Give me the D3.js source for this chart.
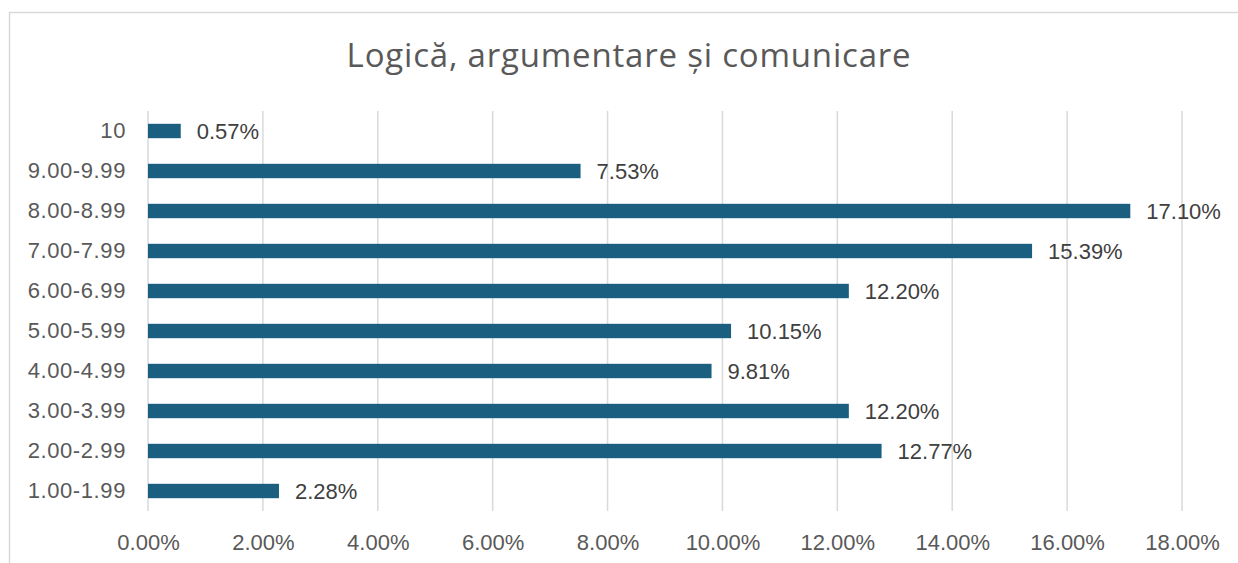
<!DOCTYPE html>
<html><head><meta charset="utf-8">
<script src="https://cdn.jsdelivr.net/npm/d3@7"></script>
<style>body{margin:0;background:#fff}svg{display:block}</style>
</head><body>
<script>
const categories = ["10","9.00-9.99","8.00-8.99","7.00-7.99","6.00-6.99","5.00-5.99","4.00-4.99","3.00-3.99","2.00-2.99","1.00-1.99"];
const values = [0.57,7.53,17.10,15.39,12.20,10.15,9.81,12.20,12.77,2.28];
const tickValues = [0,2,4,6,8,10,12,14,16,18];
const title = "Logică, argumentare și comunicare";

const W=1238,H=563;
const svg=d3.select("body").append("svg").attr("width",W).attr("height",H);
svg.append("rect").attr("x",9.5).attr("y",12.5).attr("width",W).attr("height",H).attr("fill","#fff").attr("stroke","#d9d9d9").attr("stroke-width",1.5);

const x=d3.scaleLinear().domain([0,18]).range([148,1182]);
const y=d3.scaleBand().domain(categories).range([111,511]).paddingInner(0.64).paddingOuter(0.32);

const font="'Liberation Sans', Arial, sans-serif";
svg.append("text").attr("x",629).attr("y",67).attr("text-anchor","middle")
  .attr("font-family","'Open Sans', sans-serif").attr("font-size",33).attr("letter-spacing","0.8px").attr("fill","#595959").text(title);

svg.append("g").selectAll("line").data(tickValues).join("line")
  .attr("x1",d=>x(d)).attr("x2",d=>x(d)).attr("y1",111).attr("y2",511)
  .attr("stroke","#d9d9d9").attr("stroke-width",1.5);

const xa=svg.append("g").attr("transform","translate(0,511)")
  .call(d3.axisBottom(x).tickValues(tickValues).tickFormat(d=>d.toFixed(2)+"%").tickSize(0).tickPadding(23));
xa.select(".domain").remove();
xa.selectAll("text").attr("font-family",font).attr("font-size",22).attr("fill","#595959");

const ya=svg.append("g").attr("transform","translate(148,0)")
  .call(d3.axisLeft(y).tickSize(0).tickPadding(22));
ya.select(".domain").remove();
ya.selectAll("text").attr("font-family",font).attr("font-size",22).attr("letter-spacing","0.6px").attr("fill","#595959");

svg.append("g").selectAll("rect").data(values).join("rect")
  .attr("x",x(0)).attr("y",(d,i)=>y(categories[i])).attr("width",d=>x(d)-x(0)).attr("height",y.bandwidth())
  .attr("fill","#1a5f80");

svg.append("g").selectAll("text").data(values).join("text")
  .attr("x",d=>x(d)+16).attr("y",(d,i)=>y(categories[i])+y.bandwidth()/2).attr("dy","0.36em")
  .attr("font-family",font).attr("font-size",22).attr("fill","#404040").text(d=>d.toFixed(2)+"%");
</script>
</body></html>
